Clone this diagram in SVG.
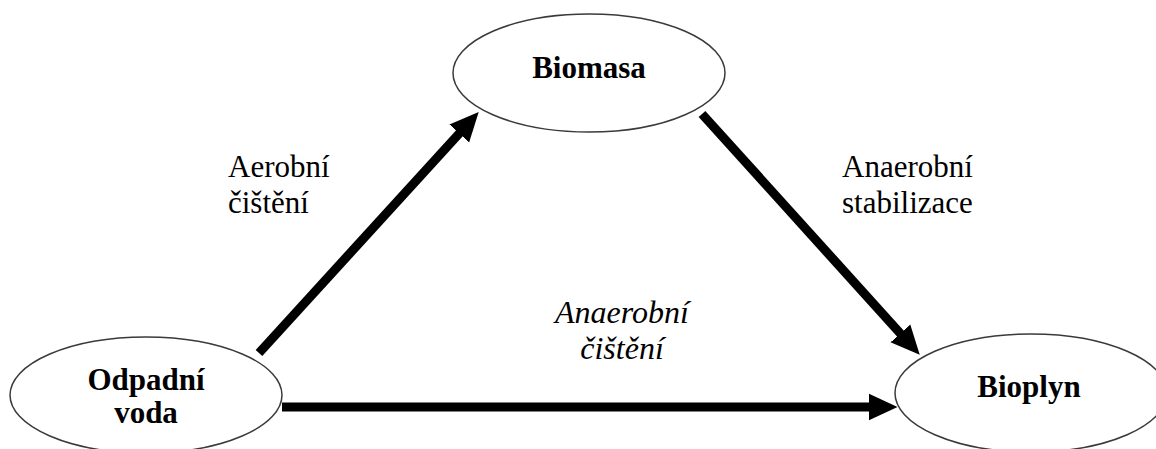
<svg xmlns="http://www.w3.org/2000/svg" width="1156" height="449" viewBox="0 0 1156 449" font-family="'Liberation Serif', 'Times New Roman', Times, 'DejaVu Serif', 'Noto Serif', serif">
  <style>
    .node { fill: #ffffff; stroke: #3a3a3a; stroke-width: 1.5; }
    text { font-family: "Liberation Serif", "Times New Roman", Times, "DejaVu Serif", "Noto Serif", serif; fill: #000; }
    .bold { font-weight: bold; font-size: 31px; text-anchor: middle; }
    .lbl { font-size: 31px; }
    .ital { font-style: italic; font-size: 32px; text-anchor: middle; }
    .edge { stroke: #000; stroke-width: 9; fill: none; }
  </style>
  <defs>
    <marker id="head" markerUnits="userSpaceOnUse" markerWidth="30" markerHeight="30" viewBox="0 -13 27 26" refX="3" refY="0" orient="auto">
      <path d="M0,-12 L26,0 L0,12 z" fill="#000"/>
    </marker>
  </defs>
  <rect width="1156" height="449" fill="#ffffff"/>
  <g id="connectors">
    <line class="edge" x1="259" y1="353" x2="461.5" y2="131" marker-end="url(#head)"/>
    <line class="edge" x1="702" y1="114" x2="902.6" y2="335.9" marker-end="url(#head)"/>
    <line class="edge" x1="282" y1="407" x2="872" y2="407" marker-end="url(#head)"/>
  </g>
  <g id="node-biomasa">
    <ellipse class="node" cx="589" cy="73" rx="136" ry="59"/>
    <text class="bold" x="589" y="78">Biomasa</text>
  </g>
  <g id="node-odpadni-voda">
    <ellipse class="node" cx="146" cy="395" rx="136" ry="58"/>
    <text class="bold" x="146" y="390">Odpadní</text>
    <text class="bold" x="146" y="423">voda</text>
  </g>
  <g id="node-bioplyn">
    <ellipse class="node" cx="1031" cy="393" rx="136" ry="59"/>
    <text class="bold" x="1029" y="397">Bioplyn</text>
  </g>
  <g id="labels">
    <text class="lbl" x="228" y="177">Aerobní</text>
    <text class="lbl" x="228" y="213">čištění</text>
    <text class="lbl" x="842" y="177">Anaerobní</text>
    <text class="lbl" x="842" y="213">stabilizace</text>
    <text class="ital" x="622" y="323">Anaerobní</text>
    <text class="ital" x="622" y="359">čištění</text>
  </g>
</svg>
